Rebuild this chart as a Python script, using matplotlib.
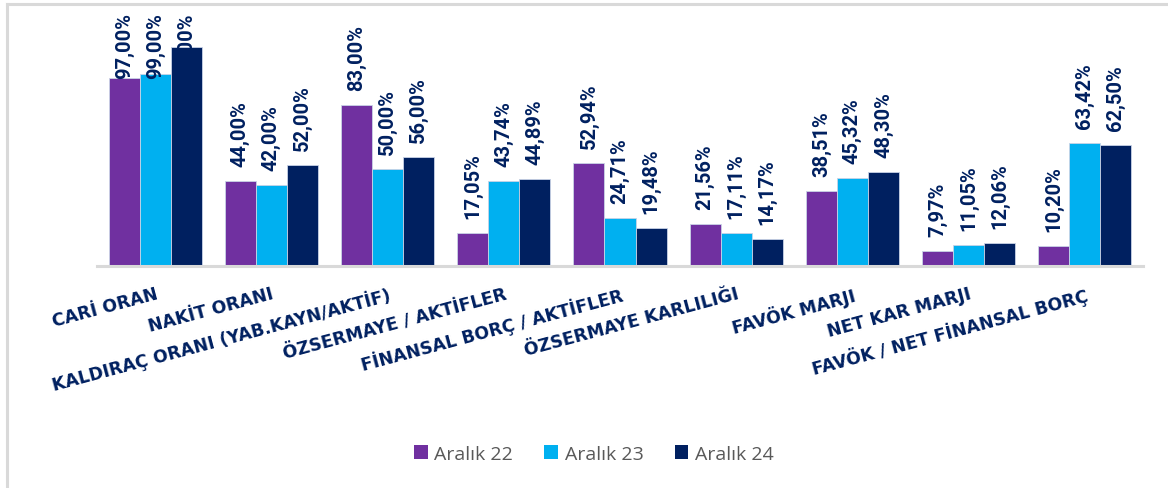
import numpy as np
import matplotlib
matplotlib.use('Agg')
import matplotlib.pyplot as plt
from matplotlib.lines import Line2D
from matplotlib.patches import Patch
from matplotlib.transforms import ScaledTranslation

# data
categories = ['CARİ ORAN', 'NAKİT ORANI', 'KALDIRAÇ ORANI (YAB.KAYN/AKTİF)',
              'ÖZSERMAYE / AKTİFLER', 'FİNANSAL BORÇ / AKTİFLER',
              'ÖZSERMAYE KARLILIĞI', 'FAVÖK MARJI', 'NET KAR MARJI',
              'FAVÖK / NET FİNANSAL BORÇ']
aralik_22 = [97.00, 44.00, 83.00, 17.05, 52.94, 21.56, 38.51, 7.97, 10.20]
aralik_23 = [99.00, 42.00, 50.00, 43.74, 24.71, 17.11, 45.32, 11.05, 63.42]
aralik_24 = [113.00, 52.00, 56.00, 44.89, 19.48, 14.17, 48.30, 12.06, 62.50]
series_names = ['Aralık 22', 'Aralık 23', 'Aralık 24']
colors = ['#7030A0', '#00B0F0', '#002060']
navy = '#002060'

W, H, DPI = 1168, 489, 100
fig = plt.figure(figsize=(W / DPI, H / DPI), dpi=DPI)
# axes: left 97px, right 1143px, top 13px, baseline 267px
ax = fig.add_axes([97 / W, 1 - 267 / H, (1143 - 97) / W, (267 - 13) / H])

x = np.arange(len(categories))
bw = 0.267
texts = []
for i, (vals, c) in enumerate(zip([aralik_22, aralik_23, aralik_24], colors)):
    xs = x + (i - 1) * bw
    ax.bar(xs, vals, width=bw, color=c, edgecolor='#C9D3E6', linewidth=0.6, zorder=2)
    for xi, v in zip(xs, vals):
        off = ScaledTranslation(0, 15 / DPI, fig.dpi_scale_trans)
        t = ax.text(xi, v, f'{v:.2f}'.replace('.', ',') + '%',
                    rotation=90, ha='center', va='bottom',
                    fontsize=14.5, fontweight='bold', family='Roboto', color=navy,
                    transform=ax.transData + off, clip_on=False, zorder=3)
        texts.append((t, xi))

ax.set_xlim(-0.5, len(categories) - 0.5)
ax.set_ylim(0, 254 / 1.94)
ax.set_yticks([])
ax.set_xticks([])
for s in ['top', 'right', 'left']:
    ax.spines[s].set_visible(False)
ax.spines['bottom'].set_color('#D9D9D9')
ax.spines['bottom'].set_linewidth(2.2)
ax.patch.set_alpha(0)

# category labels, slanted, right end under category centre
for xi, lab in zip(x, categories):
    ax.text(xi, -18 / 254, lab, transform=ax.get_xaxis_transform(),
            rotation=15, rotation_mode='anchor', ha='right', va='top',
            fontsize=12.5, fontweight='bold', family='DejaVu Sans', color=navy)

# labels that run past the top are pushed down inside the plot area
fig.canvas.draw()
r = fig.canvas.get_renderer()
for t, xi in texts:
    bb = t.get_window_extent(r)
    if bb.y1 > H - 13:
        t.set_transform(ax.get_xaxis_transform())
        t.set_position((xi, 1.0))
        t.set_va('top')

# legend
handles = [Patch(facecolor=c, edgecolor='none') for c in colors]
fig.legend(handles, series_names, loc='center', ncol=3,
           bbox_to_anchor=(594 / W, 1 - 455 / H), frameon=False,
           labelcolor='#595959', handlelength=0.7,
           handleheight=0.7, handletextpad=0.35, columnspacing=1.6,
           prop={'family': 'Open Sans', 'size': 14})

# chart frame (top and left edges visible in the screenshot)
fig.add_artist(Line2D([7 / W, 1], [1 - 5 / H, 1 - 5 / H], color='#D9D9D9', lw=2.2))
fig.add_artist(Line2D([7 / W, 7 / W], [0, 1 - 5 / H], color='#D9D9D9', lw=2.2))

fig.savefig('out.png', dpi=DPI)
